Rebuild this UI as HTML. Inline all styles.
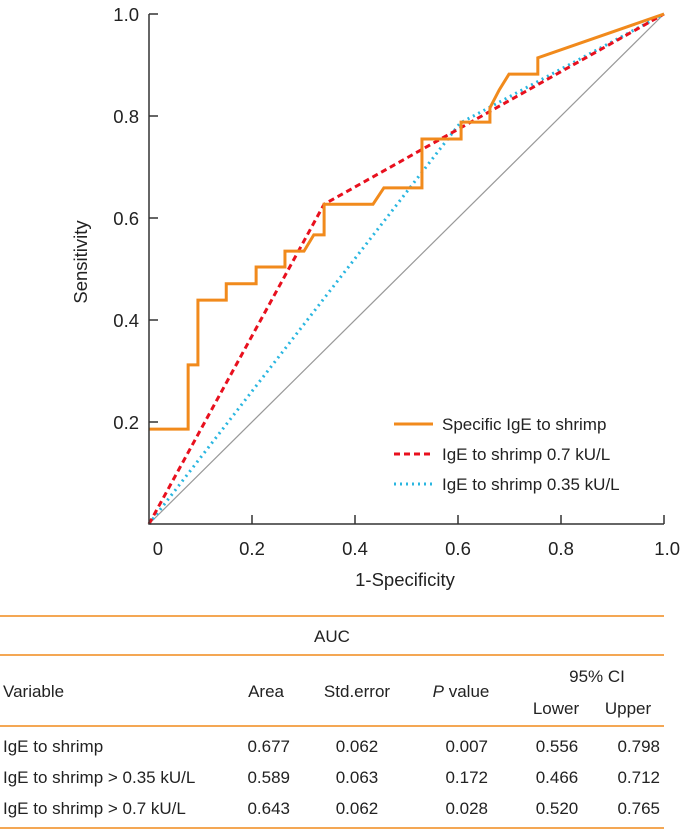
<!DOCTYPE html>
<html><head><meta charset="utf-8"><style>
body{margin:0;background:#fff;font-family:"Liberation Sans",sans-serif;color:#222}
svg text{font-family:"Liberation Sans",sans-serif}
</style></head><body>
<svg id="chart" width="680" height="830" xmlns="http://www.w3.org/2000/svg"></svg>
<script>
const specX = [0,0.076,0.076,0.095,0.095,0.150,0.150,0.208,0.208,0.264,0.264,0.301,0.320,0.340,0.340,0.435,0.456,0.530,0.530,0.606,0.606,0.662,0.662,0.680,0.699,0.755,0.755,1];
const specY = [0.186,0.186,0.312,0.312,0.439,0.439,0.471,0.471,0.504,0.504,0.535,0.535,0.567,0.567,0.627,0.627,0.659,0.659,0.755,0.755,0.788,0.788,0.816,0.851,0.882,0.882,0.914,1];
const r07X = [0,0.34,1];
const r07Y = [0,0.627,1];
const r035X = [0,0.604,1];
const r035Y = [0,0.786,1];
const tickVals = [0.2,0.4,0.6,0.8,1.0];
const xTickLabels = ["0","0.2","0.4","0.6","0.8","1.0"];
const yTickLabels = ["0.2","0.4","0.6","0.8","1.0"];
const tableRows = [
 ["IgE to shrimp","0.677","0.062","0.007","0.556","0.798"],
 ["IgE to shrimp > 0.35 kU/L","0.589","0.063","0.172","0.466","0.712"],
 ["IgE to shrimp > 0.7 kU/L","0.643","0.062","0.028","0.520","0.765"]
];
const NS="http://www.w3.org/2000/svg";
const svg=document.getElementById('chart');
const X0=149,X1=664,Y0=524,Y1=14;
const sx=v=>X0+v*(X1-X0), sy=v=>Y0-v*(Y0-Y1);
function el(t,a,p){const e=document.createElementNS(NS,t);for(const k in a)e.setAttribute(k,a[k]);(p||svg).appendChild(e);return e;}
function txt(s,x,y,a){const e=el('text',Object.assign({x:x,y:y,'font-size':17,fill:'#222'},a||{}));e.textContent=s;return e;}
let d=el('line',{x1:sx(0),y1:sy(0),x2:sx(1),y2:sy(1),stroke:'#999','stroke-width':1.2});


function poly(xs,ys,attrs,name){const pts=xs.map((v,i)=>sx(v)+','+sy(ys[i])).join(' ');const p=el('polyline',Object.assign({points:pts,fill:'none'},attrs));return p;}
poly(r035X,r035Y,{stroke:'#29b6e0','stroke-width':3,'stroke-dasharray':'2 4'},'series-igE-0.35');
poly(r07X,r07Y,{stroke:'#e8101e','stroke-width':3,'stroke-dasharray':'6 4'},'series-igE-0.7');
poly(specX,specY,{stroke:'#f18a1c','stroke-width':3,'stroke-linejoin':'miter'},'series-specific-igE');
let ax=el('path',{d:`M${X0},${Y1} L${X0},${Y0} L${X1},${Y0}`,stroke:'#333','stroke-width':1.5,fill:'none'});


tickVals.forEach((v,i)=>{
 let t=el('line',{x1:sx(v),y1:Y0,x2:sx(v),y2:Y0-9,stroke:'#333','stroke-width':1.5});
 
 
 let u=el('line',{x1:X0,y1:sy(v),x2:X0+9,y2:sy(v),stroke:'#333','stroke-width':1.5});
 
 
 let l=txt(yTickLabels[i],139,sy(v)+7,{'text-anchor':'end','font-size':18.5});
 
 
});
[0].concat(tickVals).forEach((v,i)=>{
 let l=txt(xTickLabels[i],i==0?sx(v)+14:sx(v),555,{'text-anchor':i==0?'end':'middle','font-size':18.5});
 if(i==5)l.setAttribute('text-anchor','end'),l.setAttribute('x',X1+16);
 
 
});
let xt=txt('1-Specificity',405,586,{'text-anchor':'middle','font-size':18.5});


let yt=txt('Sensitivity',0,0,{'text-anchor':'middle','font-size':18.5,transform:'translate(87,262) rotate(-90)'});


const leg=[['Specific IgE to shrimp','#f18a1c',''],['IgE to shrimp 0.7 kU/L','#e8101e','6 4'],['IgE to shrimp 0.35 kU/L','#29b6e0','2 4']];
leg.forEach((g,i)=>{const y=424+i*30;
 let s=el('line',{x1:394,y1:y,x2:433,y2:y,stroke:g[1],'stroke-width':3,'stroke-dasharray':g[2]||'none'});
 
 
 let t=txt(g[0],442,y+6,{'font-size':17});
 
 
});
[616,655,726,828].forEach(y=>{let l=el('line',{x1:0,y1:y,x2:664,y2:y,stroke:'#f18a1c','stroke-width':1.5});
 
 });
const hdr=[['AUC',332,642,'middle'],['Variable',3,697,'start'],['Area',284,697,'end'],['Std.error',357,697,'middle'],['95% CI',597,682,'middle'],['Lower',556,714,'middle'],['Upper',628,714,'middle']];
hdr.forEach(h=>{let t=txt(h[0],h[1],h[2],{'text-anchor':h[3]});});
let pv=el('text',{x:461,y:697,'font-size':17,fill:'#222','text-anchor':'middle'});
pv.innerHTML='<tspan font-style="italic">P</tspan> value';


const colX=[3,290,357,488,557,660],colA=['start','end','middle','end','middle','end'];
tableRows.forEach((r,ri)=>{const y=752+ri*31;r.forEach((c,ci)=>{let t=txt(c,colX[ci],y,{'text-anchor':colA[ci]});
 
 });});
</script>
</body></html>
